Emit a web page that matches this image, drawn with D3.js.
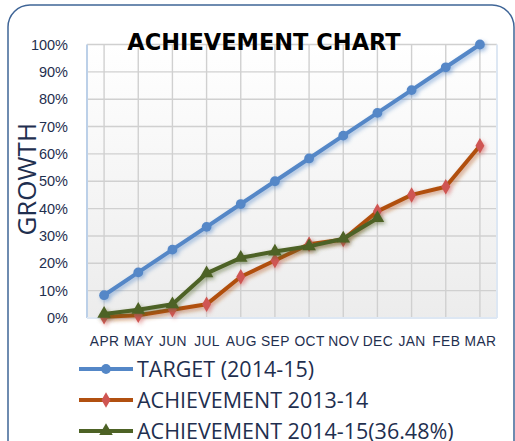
<!DOCTYPE html>
<html><head><meta charset="utf-8">
<script src="https://cdn.jsdelivr.net/npm/d3@7"></script>
<style>
html,body{margin:0;padding:0;background:#fff;}
svg{display:block;font-family:"Open Sans","DejaVu Sans",sans-serif;}
</style></head>
<body><div id="chart"></div>
<script>
// Monate + Serien (in %)
const months = ["APR","MAY","JUN","JUL","AUG","SEP","OCT","NOV","DEC","JAN","FEB","MAR"];
const target = [8.33,16.67,25,33.33,41.67,50,58.33,66.67,75,83.33,91.67,100];
const ach1314 = [0.5,1,3,5,15.1,21,27,28.7,39,45,48,63];
const ach1415 = [1.5,3,5,16.3,22,24.3,26.2,29,36.5];
const yTicks = [0,10,20,30,40,50,60,70,80,90,100];
const legendNames = ["TARGET (2014-15)","ACHIEVEMENT 2013-14","ACHIEVEMENT 2014-15(36.48%)"];

const W=515, H=441, m={l:87,r:18,t:44.5,b:123};
const svg = d3.select("#chart").append("svg").attr("width",W).attr("height",H);
const defs = svg.append("defs");
const grad = defs.append("linearGradient").attr("id","bg").attr("x1",0).attr("y1",0).attr("x2",0).attr("y2",1);
grad.append("stop").attr("offset","0%").attr("stop-color","#ffffff");
grad.append("stop").attr("offset","100%").attr("stop-color","#ececec");
const glow = defs.append("filter").attr("id","glow").attr("x","-10%").attr("y","-10%").attr("width","120%").attr("height","120%");
glow.append("feGaussianBlur").attr("in","SourceGraphic").attr("stdDeviation",2.2).attr("result","b");
glow.append("feOffset").attr("in","b").attr("dx",1.5).attr("dy",2).attr("result","o");
glow.append("feComponentTransfer").attr("in","o").attr("result","t").append("feFuncA").attr("type","linear").attr("slope",0.55);
const mg = glow.append("feMerge"); mg.append("feMergeNode").attr("in","t"); mg.append("feMergeNode").attr("in","SourceGraphic");

// Rahmen
svg.append("rect").attr("x",8).attr("y",5).attr("width",W-9).attr("height",H+20).attr("rx",22)
  .attr("fill","#fff").attr("stroke","#3f6597").attr("stroke-width",1.5);

const x = d3.scalePoint().domain(months).range([m.l, W-m.r]).padding(0.5);
const y = d3.scaleLinear().domain([0,100]).range([H-m.b, m.t]);
const px0=m.l, px1=W-m.r;

svg.append("rect").attr("x",px0).attr("y",y(100)).attr("width",px1-px0).attr("height",y(0)-y(100)).attr("fill","url(#bg)");

// Gitter
const grid = svg.append("g").attr("stroke","#d0d0d0").attr("stroke-width",1.4);
yTicks.forEach(t=> grid.append("line").attr("x1",px0).attr("x2",px1).attr("y1",y(t)).attr("y2",y(t)));
months.forEach(mo=> grid.append("line").attr("x1",x(mo)).attr("x2",x(mo)).attr("y1",y(100)).attr("y2",y(0)));
svg.append("line").attr("x1",px0).attr("x2",px0).attr("y1",y(100)).attr("y2",y(0)).attr("stroke","#bcd0e8").attr("stroke-width",2);
svg.append("line").attr("x1",px1).attr("x2",px1).attr("y1",y(100)).attr("y2",y(0)).attr("stroke","#dde7f3").attr("stroke-width",2);
svg.append("line").attr("x1",px0).attr("x2",px1).attr("y1",y(0)).attr("y2",y(0)).attr("stroke","#dde7f3").attr("stroke-width",2);

// Achsen
const ya = svg.append("g").attr("transform",`translate(${px0-16},0)`)
  .call(d3.axisLeft(y).tickValues(yTicks).tickFormat(d=>d+"%").tickSize(0));
ya.select(".domain").remove();
ya.selectAll("text").attr("font-size",14.5).attr("fill","#1f2f4f");
const xa = svg.append("g").attr("transform",`translate(0,${y(0)+15})`)
  .call(d3.axisBottom(x).tickSize(0));
xa.select(".domain").remove();
xa.selectAll("text").attr("font-size",13.8).attr("fill","#1f2f4f").attr("letter-spacing","0.4");

svg.append("text").attr("x",264).attr("y",50).attr("text-anchor","middle").attr("font-size",22.5)
  .attr("font-weight","bold").attr("font-family","DejaVu Sans, sans-serif").attr("fill","#000").text("ACHIEVEMENT CHART");
svg.append("text").attr("transform",`translate(36,${y(50)-2}) rotate(-90)`).attr("text-anchor","middle")
  .attr("font-size",26).attr("fill","#1f2f4f").text("GROWTH");

// Serien
const series = [
  {vals:target, line:"#5487c7", mark:"#5487c7", shape:d3.symbolCircle, size:75},
  {vals:ach1314, line:"#b15010", mark:"#cf5552", shape:d3.symbolDiamond, size:70},
  {vals:ach1415, line:"#4d6225", mark:"#4d6225", shape:d3.symbolTriangle, size:80}
];
const line = d3.line().x((d,i)=>x(months[i])).y(d=>y(d));
series.forEach(s=>{
  const g = svg.append("g").attr("filter","url(#glow)");
  g.append("path").datum(s.vals).attr("d",line).attr("fill","none").attr("stroke",s.line).attr("stroke-width",4).attr("stroke-linejoin","round");
  g.selectAll(null).data(s.vals).join("path")
    .attr("transform",(d,i)=>`translate(${x(months[i])},${y(d)})`)
    .attr("d",d3.symbol().type(s.shape).size(s.size)).attr("fill",s.mark);
});

// Legende
series.forEach((s,i)=>{
  const ly = 369 + i*31;
  const g = svg.append("g");
  g.append("line").attr("x1",79).attr("x2",133).attr("y1",ly).attr("y2",ly).attr("stroke",s.line).attr("stroke-width",4);
  g.append("path").attr("transform",`translate(106,${ly})`).attr("d",d3.symbol().type(s.shape).size(s.size)).attr("fill",s.mark);
  g.append("text").attr("x",137).attr("y",ly).attr("dy","0.36em").attr("font-size",21.5).attr("fill","#1f2f4f").text(legendNames[i]);
});
</script></body></html>
